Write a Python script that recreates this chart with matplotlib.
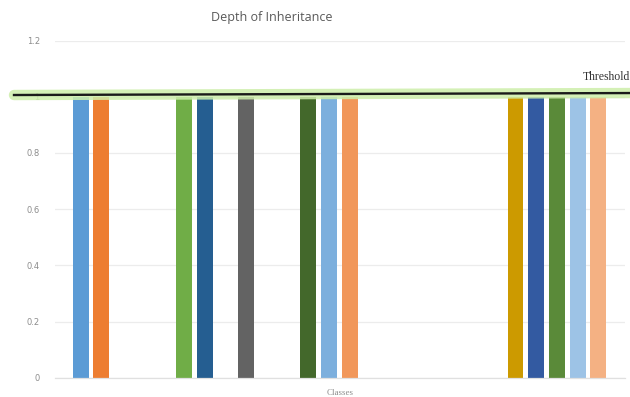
import numpy as np
import matplotlib.pyplot as plt
import matplotlib.transforms as mtransforms
from matplotlib.lines import Line2D

# 26 series in one "Classes" category; series without a class are 0
values = [1, 1, 0, 0, 0, 1, 1, 0, 1, 0, 0, 1, 1, 1, 0, 0, 0, 0, 0, 0, 0,
          1, 1, 1, 1, 1]
colors = ['#5B9BD5', '#ED7D31', '#A5A5A5', '#FFC000', '#4472C4', '#70AD47',
          '#255E91', '#9E480E', '#636363', '#997300', '#264478', '#43682B',
          '#7CAFDD', '#F1975A', '#B7B7B7', '#FFCD33', '#698ED0', '#8CC168',
          '#327DC2', '#D26012', '#848484', '#CC9A00', '#335AA1', '#5A8A39',
          '#9DC3E6', '#F4B183']
yticks = [0, 0.2, 0.4, 0.6, 0.8, 1, 1.2]
ytick_labels = ['0', '0.2', '0.4', '0.6', '0.8', '1', '1.2']
threshold = 1.0

W, H = 630, 397
fig = plt.figure(figsize=(W / 100, H / 100), dpi=100)
ax = fig.add_axes([55 / W, (H - 377.7) / H, 570 / W, (377.7 - 40.5) / H])

x = np.arange(len(values))
ax.bar(x, values, width=0.77, color=colors, zorder=2)

ax.set_xlim(-1.24, len(values) - 1 + 1.29)
ax.set_ylim(0, 1.2)
ax.set_yticks(yticks)
ax.set_yticklabels(ytick_labels)
ax.set_xticks([])
ax.tick_params(axis='y', length=0, pad=11, labelsize=6, labelcolor='#8c8c8c')
ax.grid(axis='y', color='#ececec', linewidth=0.9, zorder=0)
for side in ['top', 'right', 'left']:
    ax.spines[side].set_visible(False)
ax.spines['bottom'].set_color('#e0e0e0')
ax.spines['bottom'].set_linewidth(0.9)

fig.text(272 / W, 1 - 17 / H, 'Depth of Inheritance', ha='center', va='center',
         fontsize=9, color='#595959', family='Open Sans')
fig.text(340 / W, 1 - 393 / H, 'Classes', ha='center', va='center',
         fontsize=6.5, color='#8c8c8c', family='Liberation Serif')

# threshold marker drawn across the chart, with a soft green glow
trans = mtransforms.blended_transform_factory(fig.transFigure, ax.transData)
tx = [14 / W, 1.0]
ty = [threshold + 0.006, threshold + 0.013]
fig.add_artist(Line2D(tx, ty, transform=trans, color='#cdeeaa', linewidth=7.5,
                      alpha=0.85, solid_capstyle='round', zorder=5))
fig.add_artist(Line2D(tx, ty, transform=trans, color='#1a1a1a', linewidth=1.7,
                      zorder=6))
fig.text(583 / W, 1 - 77 / H, 'Threshold', ha='left', va='center',
         fontsize=8.5, color='#333333', family='Liberation Serif')

fig.savefig('out.png', dpi=100)
